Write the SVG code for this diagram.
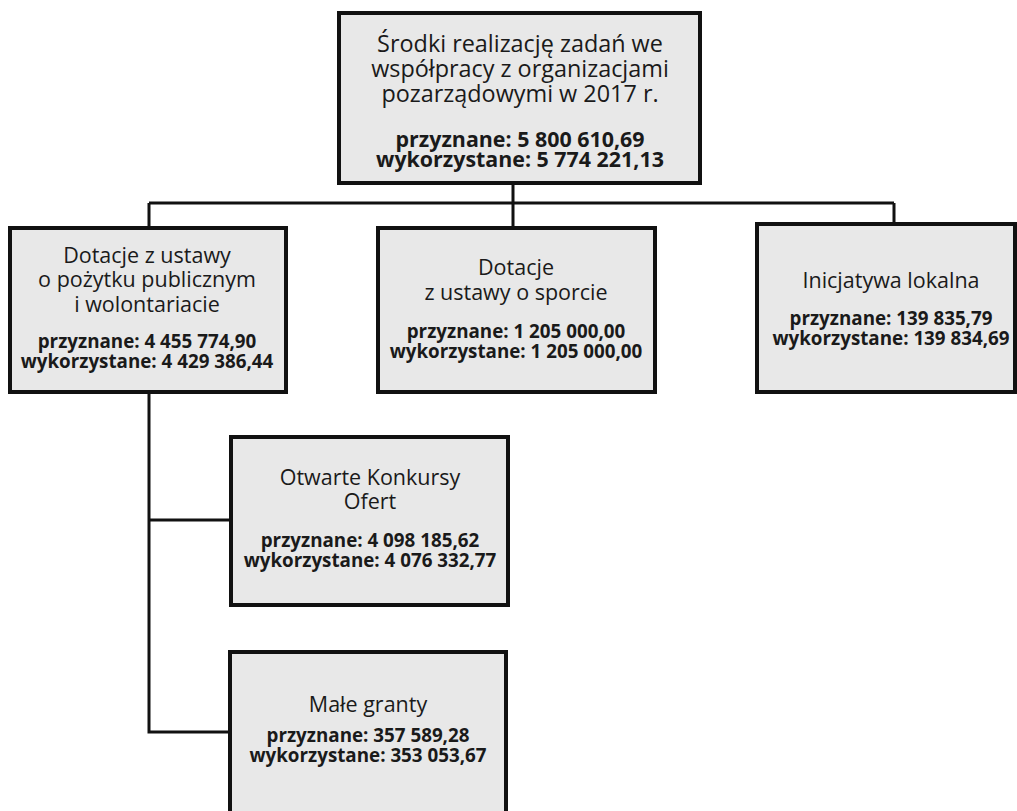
<svg xmlns="http://www.w3.org/2000/svg" width="1017" height="811" viewBox="0 0 1017 811">
<style>
.box{fill:#e8e8e8;stroke:#111;stroke-width:4}
.con{fill:none;stroke:#111;stroke-width:3}
text{font-family:"Open Sans","Noto Sans",sans-serif;fill:#1a1a1a;text-anchor:middle}
.t{font-size:21.5px}
.b{font-size:18.8px;font-weight:bold}
.tt{font-size:23.4px}
.tb{font-size:21.4px;font-weight:bold}
</style>
<rect width="1017" height="811" fill="#fff"/>
<g id="connectors">
<path class="con" d="M513 183V228M149 203H894M149 203V228M894 203V224"/>
<path class="con" d="M149 392V732H230M149 520H231"/>
</g>
<g id="root">
<rect class="box" x="339" y="13" width="361" height="170"/>
<text class="tt" x="520" y="52">Środki realizację zadań we</text>
<text class="tt" x="520" y="77">współpracy z organizacjami</text>
<text class="tt" x="520" y="102">pozarządowymi w 2017 r.</text>
<text class="tb" x="520" y="147">przyznane: 5 800 610,69</text>
<text class="tb" x="520" y="167">wykorzystane: 5 774 221,13</text>
</g>
<g id="pozytek">
<rect class="box" x="10" y="228" width="276" height="164"/>
<text class="t" x="147" y="263">Dotacje z ustawy</text>
<text class="t" x="147" y="287">o pożytku publicznym</text>
<text class="t" x="147" y="312">i wolontariacie</text>
<text class="b" x="147" y="348">przyznane: 4 455 774,90</text>
<text class="b" x="147" y="368">wykorzystane: 4 429 386,44</text>
</g>
<g id="sport">
<rect class="box" x="378" y="228" width="277" height="164"/>
<text class="t" x="516" y="275">Dotacje</text>
<text class="t" x="516" y="300">z ustawy o sporcie</text>
<text class="b" x="516" y="338">przyznane: 1 205 000,00</text>
<text class="b" x="516" y="358">wykorzystane: 1 205 000,00</text>
</g>
<g id="lokalna">
<rect class="box" x="757" y="224" width="258" height="168"/>
<text class="t" x="891" y="288">Inicjatywa lokalna</text>
<text class="b" x="891" y="325">przyznane: 139 835,79</text>
<text class="b" x="891" y="345">wykorzystane: 139 834,69</text>
</g>
<g id="konkursy">
<rect class="box" x="231" y="437" width="277" height="168"/>
<text class="t" x="370" y="485">Otwarte Konkursy</text>
<text class="t" x="370" y="509">Ofert</text>
<text class="b" x="370" y="547">przyznane: 4 098 185,62</text>
<text class="b" x="370" y="567">wykorzystane: 4 076 332,77</text>
</g>
<g id="granty">
<rect class="box" x="230" y="652" width="276" height="175"/>
<text class="t" x="368" y="712">Małe granty</text>
<text class="b" x="368" y="742">przyznane: 357 589,28</text>
<text class="b" x="368" y="762">wykorzystane: 353 053,67</text>
</g>
</svg>
